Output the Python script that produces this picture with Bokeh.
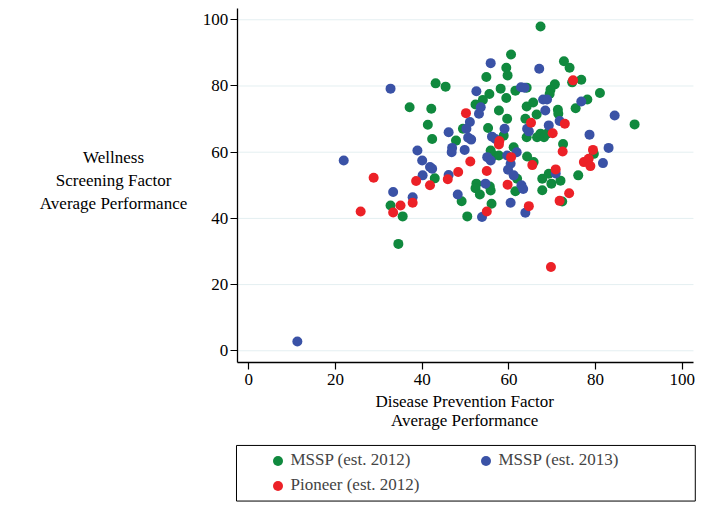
from bokeh.plotting import figure
from bokeh.models import Range1d, Legend, LegendItem, FixedTicker, LinearAxis
from bokeh.core.properties import value
from bokeh.embed import file_html
from bokeh.resources import INLINE

# ---- data ----
mssp2012_x = [67.3, 60.5, 72.7, 74.0, 59.4, 59.7, 54.8, 43.1, 45.4, 76.7, 74.6, 58.1, 55.5, 54.0, 59.4,
              61.5, 64.1, 70.6, 69.6, 69.4, 81.0, 65.6, 64.1, 66.4, 71.3, 71.4, 78.1, 75.4, 89.0, 37.1,
              42.1, 52.3, 57.7, 59.6, 41.3, 49.4, 42.3, 47.8, 55.2, 58.8, 63.8, 64.1, 66.5, 67.3, 68.1,
              68.8, 72.5, 55.8, 56.5, 57.7, 61.1, 64.2, 65.7, 52.5, 52.3, 53.3, 55.6, 55.8, 56.0, 49.1,
              50.4, 32.7, 35.5, 34.5, 42.9, 61.9, 61.5, 67.7, 69.2, 69.8, 71.9, 67.7, 76.0, 72.3, 79.6]
mssp2012_y = [98.0, 89.5, 87.5, 85.5, 85.5, 83.2, 82.7, 80.8, 79.8, 81.9, 81.1, 79.2, 77.6, 75.8, 76.4,
              78.6, 79.5, 80.5, 78.9, 77.6, 77.9, 75.0, 73.8, 71.4, 72.8, 71.6, 75.9, 73.3, 68.4, 73.6,
              73.1, 74.4, 72.6, 70.1, 68.3, 67.1, 64.0, 63.5, 67.3, 65.0, 70.1, 64.5, 64.5, 65.6, 64.5,
              65.6, 62.5, 60.5, 59.0, 59.0, 61.5, 58.7, 57.0, 50.5, 49.1, 47.2, 49.6, 48.4, 44.4, 45.2,
              40.6, 43.9, 40.6, 32.3, 52.1, 52.0, 48.2, 52.0, 53.5, 50.5, 51.4, 48.5, 53.0, 45.1, 59.5]

mssp2013_x = [55.8, 67.0, 32.7, 52.5, 62.8, 63.6, 67.9, 68.8, 68.4, 76.7, 84.4, 53.5, 53.1, 51.0, 50.2,
              46.1, 50.6, 51.3, 46.9, 46.8, 49.8, 38.9, 21.9, 40.0, 41.8, 42.3, 40.1, 46.1, 33.3, 37.8,
              48.2, 53.8, 11.2, 59.0, 56.1, 56.9, 64.2, 64.6, 69.2, 71.7, 78.6, 83.0, 81.7, 55.0, 55.8,
              59.6, 61.8, 60.4, 59.8, 61.1, 54.6, 62.9, 63.3, 60.4, 63.8, 70.8]
mssp2013_y = [86.9, 85.2, 79.2, 78.4, 79.6, 79.5, 75.9, 75.9, 72.6, 75.3, 71.1, 73.6, 71.6, 69.1, 67.1,
              66.0, 64.4, 63.8, 61.3, 60.0, 60.7, 60.5, 57.5, 57.5, 55.5, 55.0, 53.0, 53.1, 48.0, 46.4,
              47.2, 40.4, 2.8, 67.1, 64.7, 64.0, 67.1, 66.3, 68.1, 69.4, 65.3, 61.3, 56.7, 58.5, 57.5,
              59.0, 60.0, 56.5, 54.7, 53.0, 50.5, 50.0, 48.9, 44.7, 41.7, 53.6]

pioneer_x = [74.8, 50.1, 51.1, 28.8, 38.6, 41.8, 45.9, 48.3, 25.8, 35.0, 37.8, 33.3, 54.9, 54.9, 59.7,
             64.6, 65.4, 70.8, 73.9, 71.7, 69.7, 77.3, 78.4, 78.8, 79.4, 72.4, 70.1, 72.9, 65.1, 57.8,
             57.7, 60.5]
pioneer_y = [81.7, 71.8, 57.2, 52.3, 51.3, 50.0, 51.8, 54.0, 42.1, 43.9, 44.7, 41.8, 42.1, 54.3, 50.2,
             43.7, 56.1, 54.8, 47.6, 45.3, 25.3, 57.0, 58.0, 55.8, 60.7, 60.2, 65.7, 68.6, 68.9, 63.4,
             62.3, 58.5]

ticks = [0, 20, 40, 60, 80, 100]
series_labels = ["MSSP (est. 2012)", "MSSP (est. 2013)", "Pioneer (est. 2012)"]
x_title = ["Disease Prevention Factor", "Average Performance"]
y_title = ["Wellness", "Screening Factor", "Average Performance"]

GREEN = "#10893e"
BLUE = "#3a52a6"
RED = "#ec2127"
SERIF = "Liberation Serif"
FS = "17px"

# plotting-area limits (data units) and full canvas ranges
AX_X0, AX_X1 = -2.68, 102.58
AX_Y0, AX_Y1 = -3.44, 103.42
W, H = 696, 504

p = figure(width=W, height=H, x_range=Range1d(-57.28, 103.28), y_range=Range1d(-46.44, 105.83),
           x_axis_location=None, y_axis_location=None, min_border=0,
           output_backend="svg", toolbar_location=None)
p.outline_line_color = None
p.grid.visible = False

# horizontal grid lines inside the plotting area
p.segment(x0=[AX_X0] * len(ticks), x1=[AX_X1] * len(ticks), y0=ticks, y1=ticks,
          line_color="#e4eff1", line_width=1)

xaxis = LinearAxis(fixed_location=AX_Y0, bounds=(AX_X0, AX_X1), ticker=FixedTicker(ticks=ticks))
yaxis = LinearAxis(fixed_location=AX_X0, bounds=(AX_Y0, AX_Y1), ticker=FixedTicker(ticks=ticks))
for ax in (xaxis, yaxis):
    ax.axis_line_color = "black"
    ax.axis_line_width = 1.3
    ax.major_tick_line_color = "black"
    ax.major_tick_line_width = 1.2
    ax.major_tick_out = 7
    ax.major_tick_in = 0
    ax.minor_tick_line_color = None
    ax.major_label_text_font = SERIF
    ax.major_label_text_font_size = FS
    ax.major_label_text_color = "black"
xaxis.major_label_standoff = 5
yaxis.major_label_standoff = 2
p.add_layout(xaxis, "below")
p.add_layout(yaxis, "left")

rg = p.scatter(mssp2012_x, mssp2012_y, size=10, fill_color=GREEN, line_color=None)
rb = p.scatter(mssp2013_x, mssp2013_y, size=10, fill_color=BLUE, line_color=None)
rr = p.scatter(pioneer_x, pioneer_y, size=10, fill_color=RED, line_color=None)

# axis titles
p.text(x=[-31.2] * 3, y=[58.4, 51.4, 44.4], text=y_title, text_align="center", text_baseline="middle",
       text_font=value(SERIF), text_font_size=value(FS), text_color="black")
p.text(x=[49.8] * 2, y=[-15.3, -21.1], text=x_title, text_align="center", text_baseline="middle",
       text_font=value(SERIF), text_font_size=value(FS), text_color="black")

# legend frame
p.quad(left=[-2.84], right=[103.0], top=[-28.6], bottom=[-45.4], fill_color=None,
       line_color="black", line_width=1)

common = dict(orientation="vertical", padding=0, spacing=0, glyph_width=25, glyph_height=25,
              label_height=25, label_standoff=1, border_line_color=None, background_fill_alpha=0,
              label_text_font=SERIF, label_text_font_size=FS, margin=0)
legA = Legend(items=[LegendItem(label=series_labels[0], renderers=[rg]),
                     LegendItem(label=series_labels[2], renderers=[rr])],
              location=(264.5, 6.5), **common)
legB = Legend(items=[LegendItem(label=series_labels[1], renderers=[rb])],
              location=(472.5, 31.5), **common)
p.add_layout(legA)
p.add_layout(legB)

open("out.html", "w").write(file_html(p, INLINE))
